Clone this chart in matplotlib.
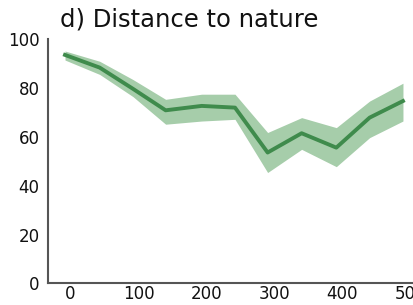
import numpy as np
import matplotlib.pyplot as plt

# Data
x_vals = [-8, 43, 92, 140, 193, 242, 290, 340, 391, 440, 489]
mean_vals = [93.6, 88.4, 79.7, 70.9, 72.7, 72.0, 53.6, 61.5, 55.6, 67.9, 74.7]
upper_vals = [95.2, 91.0, 83.5, 75.4, 77.5, 77.5, 61.8, 67.9, 63.8, 74.7, 82.0]
lower_vals = [91.5, 85.6, 76.5, 65.2, 66.5, 67.2, 45.4, 54.9, 47.8, 59.7, 66.5]
x_ticks = [0, 100, 200, 300, 400, 500]
y_ticks = [0, 20, 40, 60, 80, 100]
title = "d) Distance to nature"

line_color = "#3f8b4c"
band_color = "#a6cdaa"

plt.rcParams['font.family'] = ['DejaVu Sans']

fig = plt.figure(figsize=(4.13, 3.05), dpi=100)
ax = fig.add_axes([48 / 413, 21.7 / 305, 563 * 0.68 / 413, 0.8])

ax.fill_between(x_vals, lower_vals, upper_vals, color=band_color, linewidth=0)
ax.plot(x_vals, mean_vals, color=line_color, linewidth=2.8)

ax.set_xlim(-33, 530)
ax.set_ylim(0, 100)
ax.set_xticks(x_ticks)
ax.set_yticks(y_ticks)
ax.tick_params(axis='both', length=0, labelsize=12, colors='#111111')
ax.tick_params(axis='y', pad=6)
ax.tick_params(axis='x', pad=1)

for side in ['top', 'right']:
    ax.spines[side].set_visible(False)
for side in ['left', 'bottom']:
    ax.spines[side].set_color('#555555')
    ax.spines[side].set_linewidth(1.5)

fig.text(60 / 413, 1 - 26.7 / 305, title, fontsize=17.5, va='baseline', ha='left', color='#111111')

fig.savefig("out.png", dpi=100)
